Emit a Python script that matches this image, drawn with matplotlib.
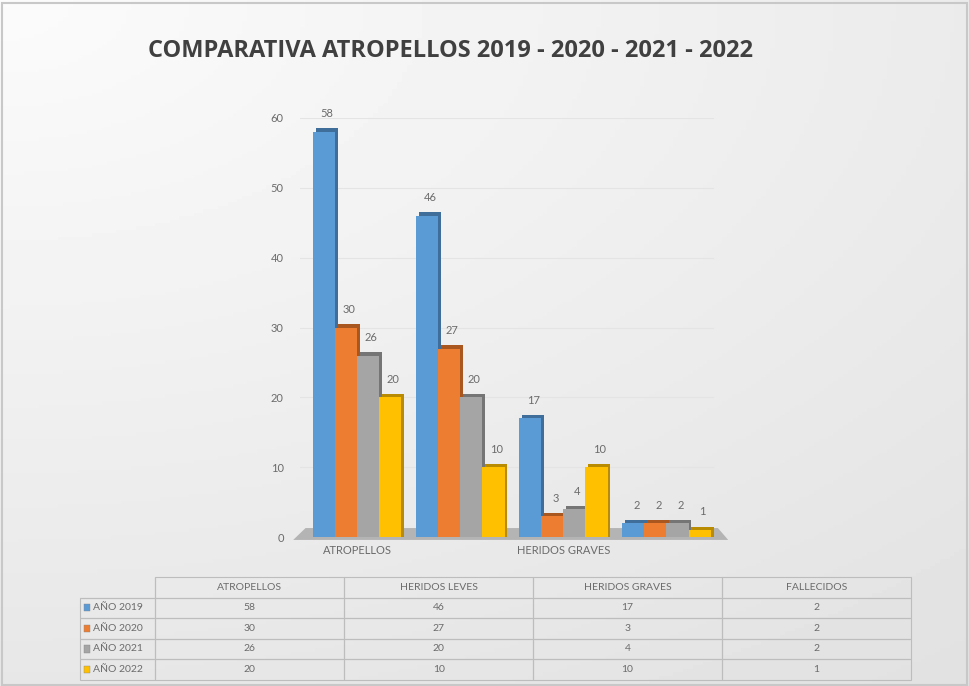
import numpy as np
import matplotlib
matplotlib.use("Agg")
from matplotlib import pyplot as plt
from matplotlib.patches import Polygon, Rectangle

categories = ["ATROPELLOS", "HERIDOS LEVES", "HERIDOS GRAVES", "FALLECIDOS"]
years = ["AÑO 2019", "AÑO 2020", "AÑO 2021", "AÑO 2022"]
v2019 = [58, 46, 17, 2]
v2020 = [30, 27, 3, 2]
v2021 = [26, 20, 4, 2]
v2022 = [20, 10, 10, 1]
series = [v2019, v2020, v2021, v2022]

colors = ["#5B9BD5", "#ED7D31", "#A5A5A5", "#FFC000"]
sides = ["#3F6E9A", "#A9561F", "#757575", "#B98B00"]
text_gray = "#6b6b6b"

plt.rcParams["font.family"] = ["Lato", "DejaVu Sans"]

fig = plt.figure(figsize=(9.69, 6.86), dpi=100)

# background gradient
bg = fig.add_axes([0, 0, 1, 1], zorder=-5)
yy, xx = np.mgrid[0:1:200j, 0:1:200j]
grad = 0.985 - 0.08 * np.sqrt((xx * 0.8) ** 2 + (yy * 1.0) ** 2)
bg.imshow(grad, cmap="gray", vmin=0, vmax=1, aspect="auto", extent=[0, 1, 0, 1])
bg.add_patch(Rectangle((0.002, 0.002), 0.996, 0.994, fill=False, ec="#c8c8c8", lw=1.5))
bg.set_xlim(0, 1)
bg.set_ylim(0, 1)
bg.axis("off")

fig.text(0.465, 0.925, "COMPARATIVA ATROPELLOS 2019 - 2020 - 2021 - 2022",
         ha="center", va="center", fontsize=17, fontweight="bold",
         color="#404040", family=["Open Sans", "DejaVu Sans"])

ax = fig.add_axes([0.31, 0.217, 0.433, 0.611])
ax.patch.set_alpha(0)
ax.set_xlim(-0.55, 3.52)
ax.set_ylim(0, 60)
for s in ax.spines.values():
    s.set_visible(False)
ax.set_yticks(range(0, 61, 10))
ax.tick_params(axis="y", length=0, labelsize=8, labelcolor=text_gray, pad=12)
ax.tick_params(axis="x", length=0, labelsize=8, labelcolor=text_gray, pad=6)
for g in range(10, 61, 10):
    ax.plot([-0.55, 3.45], [g, g], color="#e4e4e4", lw=0.8, zorder=0)

# floor
ax.add_patch(Polygon([(-0.62, -0.4), (3.6, -0.4), (3.5, 1.3), (-0.5, 1.3)],
                     closed=True, fc="#b4b4b4", ec="none", zorder=1, clip_on=False))

x = np.arange(len(categories))
w = 0.215
for i, vals in enumerate(series):
    pos = x - 1.5 * w + i * w
    ax.bar(pos + 0.028, np.array(vals) + 0.5, width=w, color=sides[i], zorder=2 + i * 2)
    ax.bar(pos, vals, width=w, color=colors[i], zorder=3 + i * 2)
    for p, v in zip(pos, vals):
        ax.text(p + 0.03, v + 2.6, str(v), ha="center", va="center",
                fontsize=8, color=text_gray, zorder=20)

ax.set_xticks([x[0], x[2]])
ax.set_xticklabels([categories[0], categories[2]])

# data table
tax = fig.add_axes([0.083, 0.009, 0.857, 0.150])
tax.axis("off")
cell_text = [[""] + categories]
for yname, vals in zip(years, series):
    cell_text.append([yname] + [str(v) for v in vals])
col_w = [75 / 830] + [188.75 / 830] * 4
tbl = tax.table(cellText=cell_text, cellLoc="center", bbox=[0, 0, 1, 1], colWidths=col_w)
tbl.auto_set_font_size(False)
for (r, c), cell in tbl.get_celld().items():
    cell.set_facecolor("none")
    cell.set_edgecolor("#bdbdbd")
    cell.set_linewidth(0.8)
    cell.get_text().set_color(text_gray)
    cell.get_text().set_fontsize(7.5)
    if c == 0:
        cell.get_text().set_ha("left")
        cell.PAD = 0.17
    if r == 0 and c == 0:
        cell.visible_edges = "BR"
for i in range(len(years)):
    ytop = 1 - (i + 1) / 5 - 0.1
    tax.add_patch(Rectangle((0.004, ytop - 0.035), 0.007, 0.07, fc=colors[i],
                            ec="#888888", lw=0.3, transform=tax.transAxes))

fig.savefig("out.png", dpi=100)
